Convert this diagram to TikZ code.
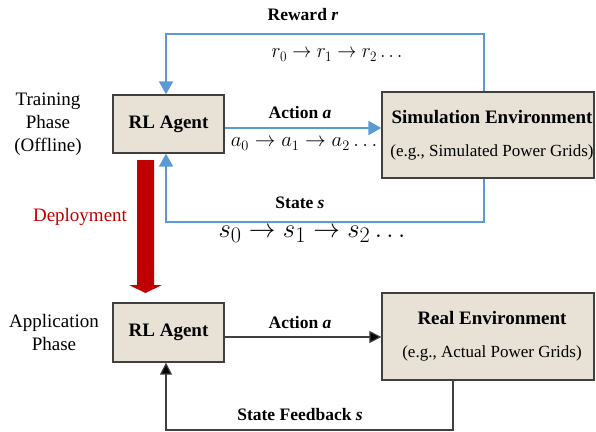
\documentclass[tikz,border=0pt]{standalone}
\usepackage{fontspec}
\setmainfont{Liberation Serif}
\usetikzlibrary{arrows.meta}
\definecolor{boxfill}{RGB}{231,225,214}
\definecolor{boxline}{RGB}{64,64,64}
\definecolor{loopblue}{RGB}{91,155,213}
\definecolor{deployred}{RGB}{192,0,0}
\tikzset{
  blk/.style={draw=boxline, fill=boxfill, line width=1.3pt, inner sep=0pt, align=center},
  bl/.style={draw=loopblue, line width=2pt, -{Triangle[length=13pt,width=14pt]}},
  bk/.style={draw=black!75, line width=1.2pt, -{Triangle[length=12pt,width=12pt,fill=black]}},
  lbl/.style={inner sep=0pt, font=\fontsize{17.5}{20}\selectfont\bfseries},
  phase/.style={inner sep=0pt, align=center, font=\fontsize{19}{23}\selectfont},
}
\begin{document}
\begin{tikzpicture}[x=1pt,y=-1pt]
\useasboundingbox (0,0) rectangle (596,431);
% boxes
\node[blk, minimum width=111pt, minimum height=58pt, font=\fontsize{19}{22}\selectfont\bfseries] (agentA) at (168.5,124) {RL Agent};
\node[blk, minimum width=212pt, minimum height=86pt] (sim) at (488,135) {};
\node[inner sep=0pt, font=\fontsize{19}{22}\selectfont\bfseries] (simT) at (492,117) {Simulation Environment};
\node[inner sep=0pt, font=\fontsize{17}{20}\selectfont] (simS) at (492,152) {(e.g., Simulated Power Grids)};
\node[blk, minimum width=111pt, minimum height=59pt, font=\fontsize{19}{22}\selectfont\bfseries] (agentB) at (168.5,332.5) {RL Agent};
\node[blk, minimum width=212pt, minimum height=87pt] (real) at (488,336.5) {};
\node[inner sep=0pt, font=\fontsize{19}{22}\selectfont\bfseries] (realT) at (492,318) {Real Environment};
\node[inner sep=0pt, font=\fontsize{17}{20}\selectfont] (realS) at (492,353) {(e.g., Actual Power Grids)};
% helper coordinates
\coordinate (rtop) at (484,34);
\coordinate (ltop) at (166,34);
\coordinate (rbot) at (484,222);
\coordinate (lbot) at (166,222);
\coordinate (ay) at (0,128);
\coordinate (by) at (0,337);
\coordinate (fr) at (453,430);
\coordinate (fl) at (166,430);
% training loop
\draw[bl] (sim.north -| rtop) -- (rtop) -- (ltop) -- (agentA.north -| ltop);
\draw[bl] (agentA.east |- ay) -- (sim.west |- ay);
\draw[bl] (sim.south -| rbot) -- (rbot) -- (lbot) -- (agentA.south -| lbot);
% application loop
\draw[bk] (agentB.east |- by) -- (real.west |- by);
\draw[bk] (real.south -| fr) -- (fr) -- (fl) -- (agentB.south -| fl);
% deployment arrow
\fill[deployred] (137,160) -- (154,160) -- (154,285) -- (162,285) -- (145.5,293) -- (129,285) -- (137,285) -- cycle;
% labels
\node[lbl] (rew) at (303,15) {Reward \textit{r}};
\node[inner sep=0pt, font=\fontsize{20.5}{22}\selectfont] (rseq) at (337,55) {\scalebox{0.92}[1]{$r_0 \rightarrow r_1 \rightarrow r_2 \ldots$}};
\node[lbl] (act) at (300,113) {Action \textit{a}};
\node[inner sep=0pt, font=\fontsize{20}{22}\selectfont] (aseq) at (304,144) {$a_0 \rightarrow a_1 \rightarrow a_2 \ldots$};
\node[lbl] (st) at (300,203) {State \textit{s}};
\node[inner sep=0pt, font=\fontsize{24.88}{28}\selectfont] (sseq) at (312,234) {\scalebox{1.07}{$s_0 \rightarrow s_1 \rightarrow s_2 \ldots$}};
\node[lbl] (act2) at (300,323) {Action \textit{a}};
\node[lbl] (sfb) at (300,415) {State Feedback \textit{s}};
\node[phase] (train) at (48,124) {Training\\Phase\\(Offline)};
\node[phase] (appl) at (54,332) {Application\\Phase};
\node[inner sep=0pt, font=\fontsize{19}{22}\selectfont, text=deployred] (dep) at (80,217) {Deployment};
\end{tikzpicture}
\end{document}
